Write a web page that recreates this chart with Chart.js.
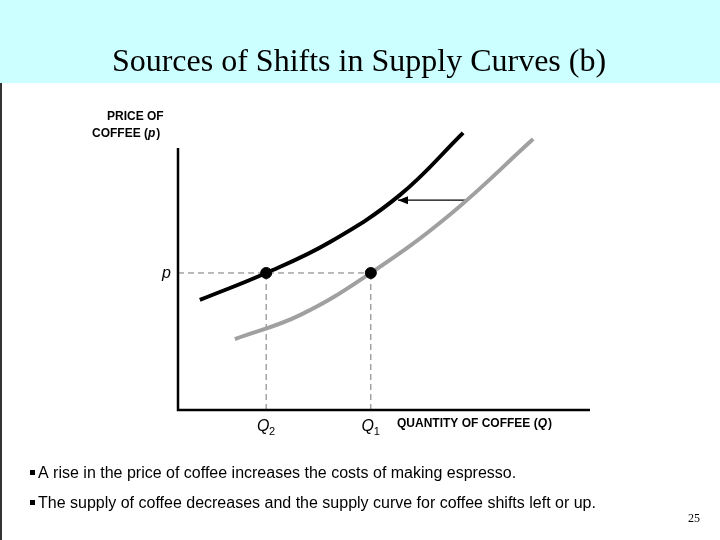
<!DOCTYPE html>
<html>
<head>
<meta charset="utf-8">
<script src="https://cdn.jsdelivr.net/npm/chart.js@4"></script>
<style>
  html, body { margin: 0; padding: 0; background: #fff; }
  #wrap { width: 720px; height: 540px; }
</style>
</head>
<body>
<div id="wrap"><canvas id="c" width="720" height="540"></canvas></div>
<script>
// data, in arbitrary units (axis 0..100)
const oldSupplyX = [13.8, 29.6, 46.8, 65.9, 86.2];
const oldSupplyY = [22.9, 30.6, 44.2, 62.9, 87.4];
const newSupplyX = [5.3, 21.4, 36.9, 53.9, 69.2];
const newSupplyY = [35.5, 44.2, 54.2, 69.4, 89.4];
const priceP = 44.2;
const q2 = 21.4;
const q1 = 46.8;
const arrowX = [70.1, 53.4];
const arrowY = 67.7;
const bullets = [
  'A rise in the price of coffee increases the costs of making espresso.',
  'The supply of coffee decreases and the supply curve for coffee shifts left or up.'
];

const pts = (xs, ys) => xs.map((x, i) => ({ x: x, y: ys[i] }));

const decor = {
  id: 'decor',
  beforeDraw(chart) {
    const ctx = chart.ctx;
    ctx.save();
    ctx.fillStyle = '#ccffff';
    ctx.fillRect(0, 0, 720, 83);
    ctx.fillStyle = '#333';
    ctx.fillRect(0, 83, 2, 457);
    ctx.restore();
  },
  afterDraw(chart) {
    const ctx = chart.ctx;
    const xs = chart.scales.x, ys = chart.scales.y;
    ctx.save();
    ctx.fillStyle = '#000';
    ctx.textBaseline = 'alphabetic';
    ctx.font = '32px "Liberation Serif", serif';
    ctx.textAlign = 'center';
    ctx.fillText('Sources of Shifts in Supply Curves (b)', 359, 71);

    // axes
    ctx.strokeStyle = '#000';
    ctx.lineWidth = 2.5;
    ctx.beginPath();
    ctx.moveTo(xs.left, 148);
    ctx.lineTo(xs.left, ys.bottom);
    ctx.lineTo(xs.right, ys.bottom);
    ctx.stroke();

    ctx.textAlign = 'left';
    ctx.font = 'bold 12px "Liberation Sans", Arial, sans-serif';
    ctx.fillText('PRICE OF', 107, 120);
    ctx.fillText('COFFEE (', 92, 137);
    let w = ctx.measureText('COFFEE (').width;
    ctx.font = 'bold italic 12px "Liberation Sans", Arial, sans-serif';
    ctx.fillText('p', 92 + w, 137);
    let w2 = ctx.measureText('p').width;
    ctx.font = 'bold 12px "Liberation Sans", Arial, sans-serif';
    ctx.fillText(')', 92 + w + w2 + 1, 137);

    ctx.fillText('QUANTITY OF COFFEE (', 397, 427);
    w = ctx.measureText('QUANTITY OF COFFEE (').width;
    ctx.font = 'bold italic 12px "Liberation Sans", Arial, sans-serif';
    ctx.fillText('Q', 397 + w, 427);
    w2 = ctx.measureText('Q').width;
    ctx.font = 'bold 12px "Liberation Sans", Arial, sans-serif';
    ctx.fillText(')', 397 + w + w2 + 1, 427);

    // tick labels
    ctx.font = 'italic 16px "Liberation Sans", Arial, sans-serif';
    ctx.fillText('p', 162, ys.getPixelForValue(priceP) + 5);
    const sub = (label, s, x) => {
      ctx.font = 'italic 16px "Liberation Sans", Arial, sans-serif';
      ctx.textAlign = 'center';
      ctx.fillText(label, x - 3, 431);
      ctx.font = '11px "Liberation Sans", Arial, sans-serif';
      ctx.fillText(s, x + 6, 435);
    };
    sub('Q', '2', xs.getPixelForValue(q2));
    sub('Q', '1', xs.getPixelForValue(q1));

    // arrowhead
    const ax = xs.getPixelForValue(arrowX[1]), ay = ys.getPixelForValue(arrowY);
    ctx.beginPath();
    ctx.moveTo(ax, ay);
    ctx.lineTo(ax + 10, ay - 4);
    ctx.lineTo(ax + 10, ay + 4);
    ctx.closePath();
    ctx.fill();

    // bullets
    ctx.textAlign = 'left';
    ctx.font = '16px "Liberation Sans", Arial, sans-serif';
    bullets.forEach((b, i) => {
      const y = 478 + i * 30;
      ctx.fillRect(30, y - 8, 5, 5);
      ctx.fillText(b, 38, y);
    });
    ctx.font = '12px "Liberation Serif", serif';
    ctx.fillText('25', 688, 522);
    ctx.restore();
  }
};

new Chart(document.getElementById('c'), {
  type: 'scatter',
  data: {
    datasets: [
      { data: pts([q2, q1], [priceP, priceP]), showLine: false, backgroundColor: '#000', borderColor: '#000', pointRadius: 5.5 },
      { data: pts(newSupplyX, newSupplyY), showLine: true, borderColor: '#000', borderWidth: 4, pointRadius: 0, tension: 0.4 },
      { data: pts(oldSupplyX, oldSupplyY), showLine: true, borderColor: '#a0a0a0', borderWidth: 4, pointRadius: 0, tension: 0.4 },
      { data: pts(arrowX, [arrowY, arrowY]), showLine: true, borderColor: '#000', borderWidth: 1.2, pointRadius: 0 },
      { data: pts([0, q1], [priceP, priceP]), showLine: true, borderColor: '#777', borderWidth: 1, borderDash: [6, 4], pointRadius: 0 },
      { data: pts([q2, q2], [0, priceP]), showLine: true, borderColor: '#777', borderWidth: 1, borderDash: [6, 4], pointRadius: 0 },
      { data: pts([q1, q1], [0, priceP]), showLine: true, borderColor: '#777', borderWidth: 1, borderDash: [6, 4], pointRadius: 0 }
    ]
  },
  options: {
    responsive: false,
    animation: false,
    layout: { padding: { left: 178, top: 100, right: 130, bottom: 130 } },
    plugins: { legend: { display: false }, tooltip: { enabled: false } },
    scales: {
      x: { type: 'linear', min: 0, max: 100, display: false },
      y: { type: 'linear', min: 0, max: 100, display: false }
    }
  },
  plugins: [decor]
});
</script>
</body>
</html>
